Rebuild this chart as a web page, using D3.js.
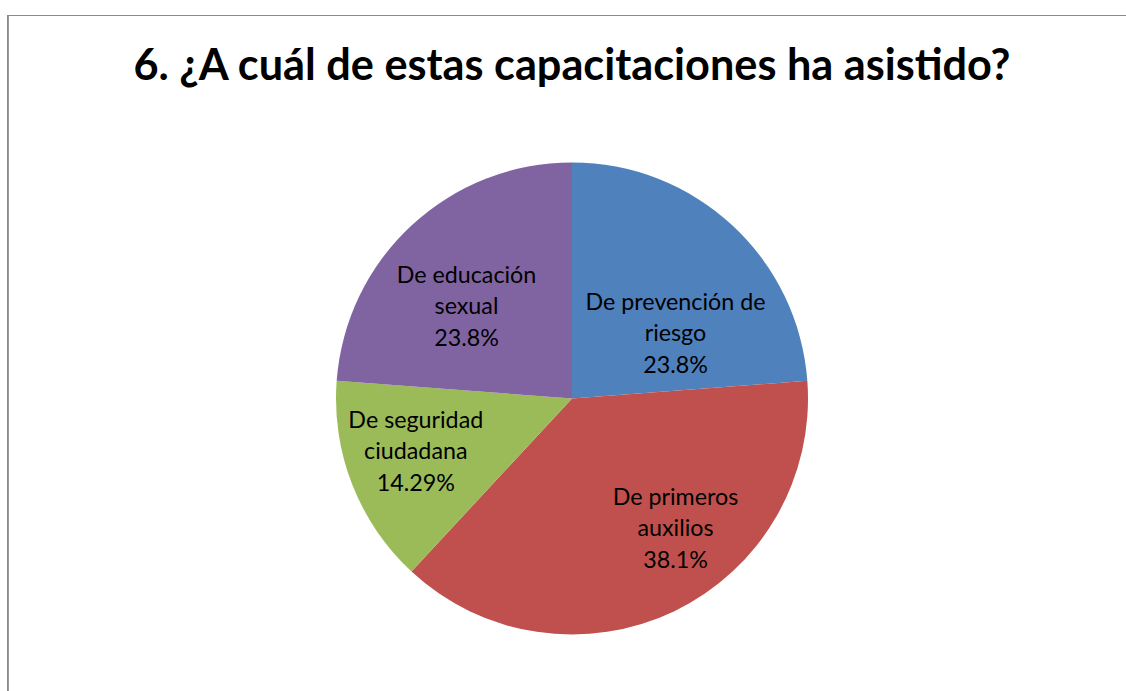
<!DOCTYPE html>
<html>
<head>
<meta charset="utf-8">
<script src="https://cdn.jsdelivr.net/npm/d3@7"></script>
<style>
  body { margin: 0; background: #fff; }
  text { font-family: Lato, "Open Sans", sans-serif; fill: #000; }
</style>
</head>
<body>
<svg id="chart" width="1126" height="691"></svg>
<script>
// datos
var categorias = ["De prevención de riesgo", "De primeros auxilios", "De seguridad ciudadana", "De educación sexual"];
var valores = [5, 8, 3, 5];
var etiquetasPct = ["23.8%", "38.1%", "14.29%", "23.8%"];
var lineasEtiqueta = [["De prevención de", "riesgo"], ["De primeros", "auxilios"], ["De seguridad", "ciudadana"], ["De educación", "sexual"]];
var colores = ["#4F81BD", "#C0504D", "#9BBB59", "#8064A2"];
var titulo = "6. ¿A cuál de estas capacitaciones ha asistido?";

var W = 1126, H = 691,
    cx = 572, cy = 398.5, r = 236;

// ajustes de posición de etiquetas (estilo "mejor ajuste" de Excel)
var nudge = [[4, 42], [40, -2], [-20, -1], [-6, 15]];

var svg = d3.select("#chart");

// marco
svg.append("rect")
    .attr("x", 7.5).attr("y", 15.5)
    .attr("width", W + 20).attr("height", H + 20)
    .attr("fill", "none").attr("stroke", "#8a8a8a").attr("stroke-width", 1);
svg.append("line")
    .attr("x1", 8.5).attr("x2", 8.5).attr("y1", 16).attr("y2", H)
    .attr("stroke", "#9a9a9a").attr("stroke-width", 1);

// titulo ajustado a un ancho
var t = svg.append("text")
    .attr("x", cx).attr("y", 80)
    .attr("text-anchor", "middle")
    .style("font-weight", "bold")
    .style("font-size", "100px")
    .text(titulo);
var tw = t.node().getComputedTextLength();
t.style("font-size", (100 * 877 / tw) + "px");

var pie = d3.pie().sort(null).value(function(d) { return d; });
var arc = d3.arc().innerRadius(0).outerRadius(r);
var labelArc = d3.arc().innerRadius(r * 0.62).outerRadius(r * 0.62);

var g = svg.append("g").attr("transform", "translate(" + cx + "," + cy + ")");

var arcs = pie(valores);

g.selectAll("path.slice")
    .data(arcs)
    .enter()
    .append("path")
    .attr("class", "slice")
    .attr("d", arc)
    .attr("fill", function(d, i) { return colores[i]; });

// tamaño de fuente de etiquetas
var probe = svg.append("text").style("font-size", "100px").text("De prevención de");
var fs = 100 * 180 / probe.node().getComputedTextLength();
probe.remove();
var lh = 31.5;

arcs.forEach(function(d, i) {
    var c = labelArc.centroid(d);
    var x = c[0] + nudge[i][0], y = c[1] + nudge[i][1];
    var lines = lineasEtiqueta[i].concat([etiquetasPct[i]]);
    var lab = g.append("text")
        .attr("text-anchor", "middle")
        .style("font-size", fs + "px");
    lines.forEach(function(l, j) {
        lab.append("tspan")
            .attr("x", x)
            .attr("y", y + (j - 1) * lh)
            .attr("dy", "0.35em")
            .text(l);
    });
});
</script>
</body>
</html>
